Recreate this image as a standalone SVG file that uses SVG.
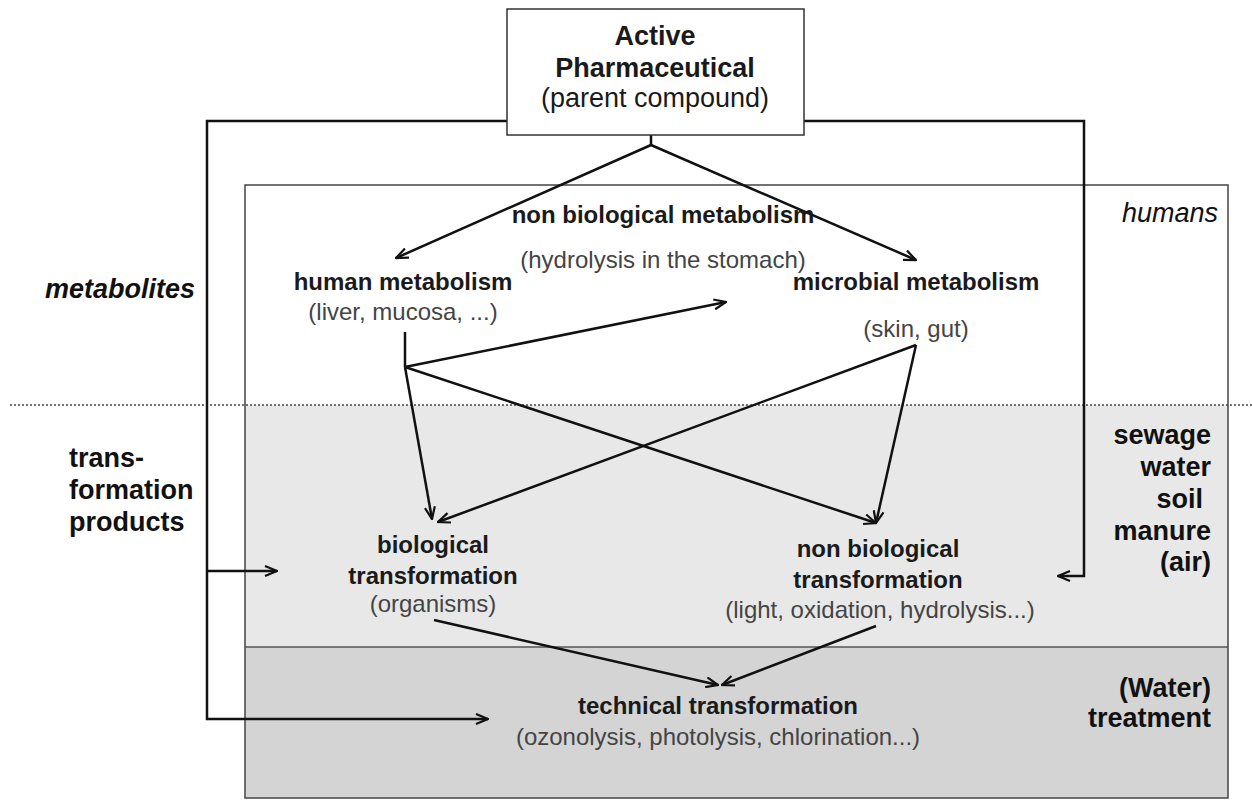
<svg xmlns="http://www.w3.org/2000/svg" width="1252" height="801" viewBox="0 0 1252 801">
<defs>
<style>
.b{font-family:"Liberation Sans",Arial,sans-serif;font-weight:bold;fill:#1a1a1a;text-anchor:middle}
.g{font-family:"Liberation Sans",Arial,sans-serif;fill:#444;text-anchor:middle}
.n{font-size:24px}
.c{font-family:"Liberation Sans",Arial,sans-serif;font-size:27px;fill:#111}
.con{fill:none;stroke:#111;stroke-width:2.5}
.arr{marker-end:url(#ah)}
</style>
<marker id="ah" viewBox="0 0 14 12" refX="13" refY="6" markerWidth="14" markerHeight="12" markerUnits="userSpaceOnUse" orient="auto">
<path d="M1,1 L13,6 L1,11" fill="none" stroke="#111" stroke-width="2.2"/>
</marker>
</defs>
<rect width="1252" height="801" fill="#fff"/>
<g id="zones">
<rect x="245" y="185" width="983" height="220" fill="#fff"/>
<rect x="245" y="405" width="983" height="242" fill="#e8e8e8"/>
<rect x="245" y="647" width="983" height="151" fill="#d4d4d4"/>
<rect x="245" y="185" width="983" height="613" fill="none" stroke="#444" stroke-width="1.5"/>
<line x1="245" y1="647" x2="1228" y2="647" stroke="#555" stroke-width="1.5"/>
<line x1="10" y1="405" x2="1252" y2="405" stroke="#444" stroke-width="1.6" stroke-dasharray="2,2"/>
</g>
<g id="connectors">
<path class="con arr" d="M507,121 H207 V719 H488"/>
<path class="con arr" d="M207,571 H277"/>
<path class="con arr" d="M804,121 H1084 V576 H1058"/>
<path class="con" d="M651,135 V145"/>
<path class="con arr" d="M651,145 L396,258"/>
<path class="con arr" d="M651,145 L916,260"/>
<path class="con" d="M405,332 V367"/>
<path class="con arr" d="M405,367 L726,302"/>
<path class="con arr" d="M405,367 L432,519"/>
<path class="con arr" d="M405,367 L876,523"/>
<path class="con arr" d="M916,345 L438,522"/>
<path class="con arr" d="M916,345 L876,523"/>
<path class="con arr" d="M434,620 L718,685"/>
<path class="con arr" d="M876,626 L722,685"/>
</g>
<g id="node-api">
<rect x="507" y="9" width="297" height="126" fill="#fff" stroke="#333" stroke-width="1.5"/>
<text class="b" x="655" y="45" font-size="27">Active</text>
<text class="b" x="655" y="77" font-size="27">Pharmaceutical</text>
<text class="g" x="655" y="107" font-size="27" style="fill:#1a1a1a">(parent compound)</text>
</g>
<g id="node-nonbio-metabolism">
<text class="b n" x="663" y="223">non biological metabolism</text>
<text class="g n" x="663" y="268">(hydrolysis in the stomach)</text>
</g>
<g id="node-human-metabolism">
<text class="b n" x="403" y="290">human metabolism</text>
<text class="g n" x="403" y="320">(liver, mucosa, ...)</text>
</g>
<g id="node-microbial-metabolism">
<text class="b n" x="916" y="290">microbial metabolism</text>
<text class="g n" x="916" y="337">(skin, gut)</text>
</g>
<g id="node-bio-transformation">
<text class="b n" x="433" y="553">biological</text>
<text class="b n" x="433" y="584">transformation</text>
<text class="g n" x="433" y="612">(organisms)</text>
</g>
<g id="node-nonbio-transformation">
<text class="b n" x="878" y="557">non biological</text>
<text class="b n" x="878" y="588">transformation</text>
<text class="g n" x="880" y="618">(light, oxidation, hydrolysis...)</text>
</g>
<g id="node-technical-transformation">
<text class="b n" x="718" y="714">technical transformation</text>
<text class="g n" x="718" y="745">(ozonolysis, photolysis, chlorination...)</text>
</g>
<g id="labels">
<text class="c" x="195" y="298" font-weight="bold" font-style="italic" text-anchor="end">metabolites</text>
<text class="c" x="69" y="467" font-weight="bold">trans-</text>
<text class="c" x="69" y="499" font-weight="bold">formation</text>
<text class="c" x="69" y="531" font-weight="bold">products</text>
<text class="c" x="1218" y="222" font-style="italic" text-anchor="end">humans</text>
<text class="c" x="1211" y="444" font-weight="bold" text-anchor="end" font-size="26">sewage</text>
<text class="c" x="1211" y="476" font-weight="bold" text-anchor="end" font-size="26">water</text>
<text class="c" x="1203" y="508" font-weight="bold" text-anchor="end" font-size="26">soil</text>
<text class="c" x="1211" y="540" font-weight="bold" text-anchor="end" font-size="26">manure</text>
<text class="c" x="1211" y="571" font-weight="bold" text-anchor="end" font-size="26">(air)</text>
<text class="c" x="1211" y="697" font-weight="bold" text-anchor="end" font-size="26">(Water)</text>
<text class="c" x="1211" y="727" font-weight="bold" text-anchor="end" font-size="26">treatment</text>
</g>
</svg>
